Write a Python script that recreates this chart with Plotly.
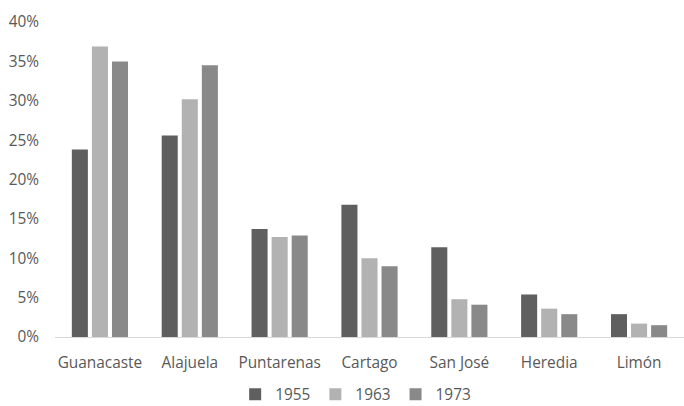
import plotly.graph_objects as go

categories = ["Guanacaste", "Alajuela", "Puntarenas", "Cartago", "San José", "Heredia", "Limón"]
years = ["1955", "1963", "1973"]
v1955 = [0.238, 0.256, 0.137, 0.168, 0.114, 0.054, 0.029]
v1963 = [0.369, 0.302, 0.127, 0.100, 0.048, 0.036, 0.017]
v1973 = [0.350, 0.345, 0.129, 0.090, 0.041, 0.029, 0.015]
colors = ["#5f5f5f", "#b2b2b2", "#898989"]

fig = go.Figure()
for name, vals, c in zip(years, [v1955, v1963, v1973], colors):
    fig.add_trace(go.Bar(x=categories, y=vals, name=name, marker=dict(color=c, line=dict(width=0))))

font = dict(family="Open Sans, Lato, sans-serif", size=15.4, color="#595959")
fig.update_layout(
    width=684, height=406,
    margin=dict(l=55, r=0, t=22, b=69, autoexpand=False),
    paper_bgcolor="white", plot_bgcolor="white",
    barmode="group", bargap=0.33, bargroupgap=0.2,
    font=font,
    showlegend=True,
    legend=dict(orientation="h", x=0.478, xanchor="center", yref="container", y=0.028, yanchor="middle",
                font=font, itemwidth=30, tracegroupgap=0),
    xaxis=dict(showgrid=False, showline=True, linecolor="#d9d9d9", linewidth=1, automargin=False,
               ticks="", tickfont=font, fixedrange=True, ticklabelstandoff=12),
    yaxis=dict(range=[0, 0.4], dtick=0.05, tickformat=".0%", showgrid=False, automargin=False,
               zeroline=False, showline=False, ticks="", tickfont=font, ticklabelstandoff=15),
)
fig.write_html("out.html")
